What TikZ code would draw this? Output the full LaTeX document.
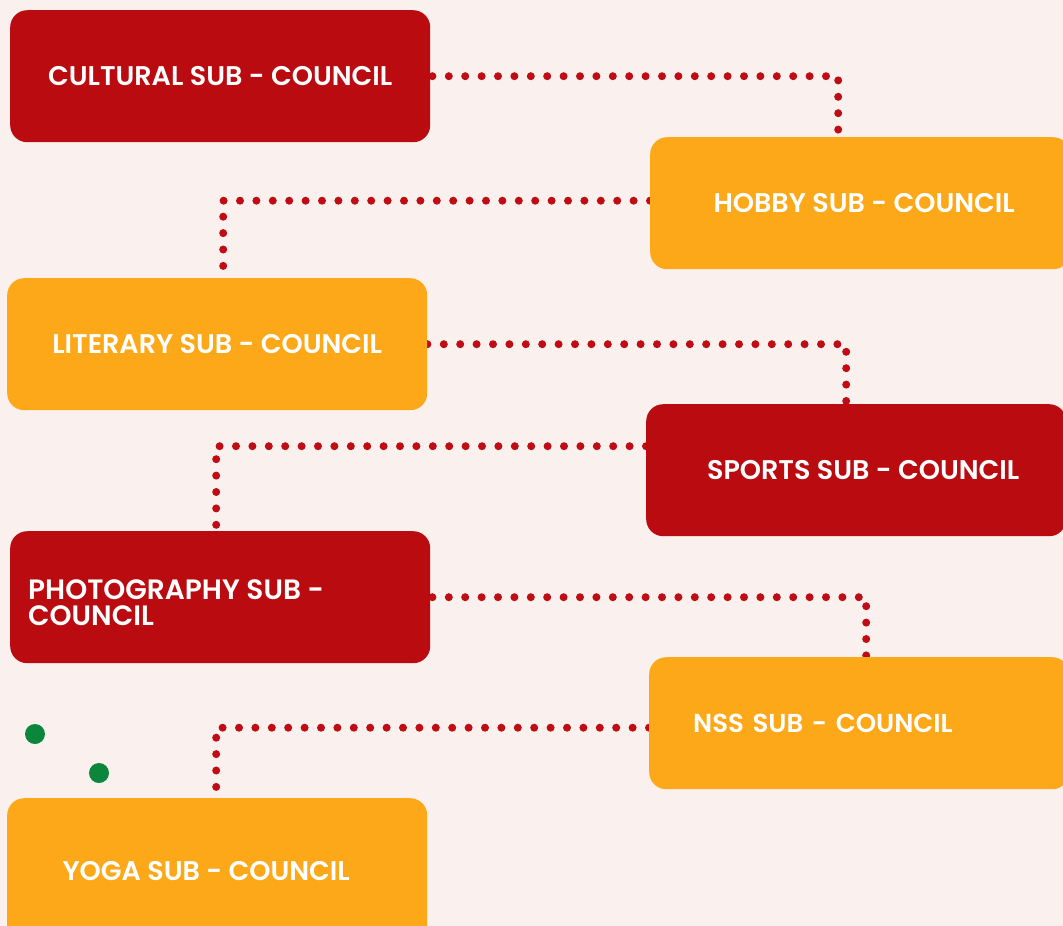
\documentclass[tikz,border=0pt]{standalone}
\usepackage{fontspec}
\setmainfont{Poppins}[BoldFont={Poppins SemiBold}]
\pgfdeclarelayer{back}
\pgfdeclarelayer{lines}
\pgfsetlayers{back,lines,main}
\definecolor{bgpink}{HTML}{FAF0EE}
\definecolor{boxred}{HTML}{BA0B10}
\definecolor{boxorange}{HTML}{FCA818}
\definecolor{dotred}{HTML}{BF0D16}
\definecolor{dotgreen}{HTML}{0B863A}
\tikzset{
  box/.style={rectangle, rounded corners=17pt, minimum width=420pt, minimum height=132pt,
    anchor=north west, inner sep=0pt, text=white, font=\fontsize{27}{26}\selectfont\bfseries},
  redbox/.style={box, fill=boxred},
  orangebox/.style={box, fill=boxorange},
  dotline/.style={draw=dotred, line width=8pt, line cap=round, dash pattern=on 0pt off 16.4pt},
  greendot/.style={circle, fill=dotgreen, minimum size=20pt, inner sep=0pt}
}
\begin{document}
\begin{tikzpicture}[x=1pt,y=-1pt]
\useasboundingbox (0,0) rectangle (1063,926);
\clip (0,0) rectangle (1063,926);
\begin{pgfonlayer}{back}
\fill[bgpink] (0,0) rectangle (1063,926);
\end{pgfonlayer}

\node[redbox] (cultural) at (10,10) {CULTURAL SUB - COUNCIL};
\node[orangebox] (hobby) at (650,137) {\hspace{8pt}HOBBY SUB - COUNCIL};
\node[orangebox] (literary) at (7,278) {LITERARY SUB - COUNCIL};
\node[redbox] (sports) at (646,404) {\hspace{14pt}SPORTS SUB - COUNCIL};
\node[redbox] (photo) at (10,531) {\raisebox{-12pt}[0pt][0pt]{\parbox[c]{384pt}{\raggedright\fontsize{28}{26}\selectfont\bfseries PHOTOGRAPHY SUB -\par COUNCIL}}};
\node[orangebox, text width=332pt, align=left, inner xsep=44pt, font=\fontsize{26}{26}\selectfont\bfseries] (nss) at (649,657) {NSS SUB - COUNCIL};
\node[orangebox, minimum height=146pt] (yoga) at (7,798) {YOGA SUB - COUNCIL\kern22pt};

\node[greendot] (g1) at (35,734) {};
\node[greendot] (g2) at (99,773) {};

\begin{pgfonlayer}{lines}
\draw[dotline] ([xshift=2pt]cultural.east) -| ([xshift=-22pt]hobby.north);
\draw[dotline] ([yshift=2.5pt]hobby.west) -| ([xshift=6pt]literary.north);
\draw[dotline] (literary.east) -| ([xshift=-10pt]sports.north);
\draw[dotline] ([yshift=24pt]sports.west) -| ([xshift=-4pt,yshift=6pt]photo.north);
\draw[dotline] ([xshift=2pt]photo.east) -| ([xshift=7pt]nss.north);
\draw[dotline] ([yshift=-4.5pt]nss.west) -| ([xshift=-1pt]yoga.north);
\end{pgfonlayer}
\end{tikzpicture}
\end{document}
